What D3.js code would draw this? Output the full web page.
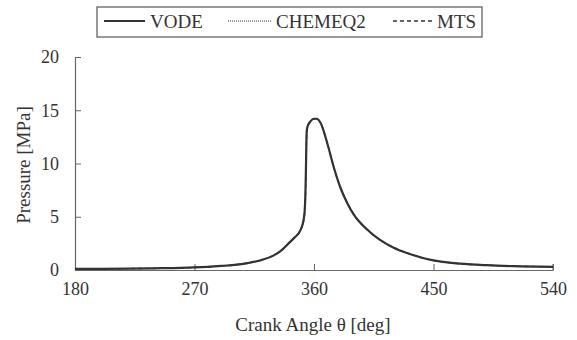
<!DOCTYPE html>
<html>
<head>
<meta charset="utf-8">
<script src="https://cdn.jsdelivr.net/npm/d3@7"></script>
<style>
  body { margin: 0; background: #fff; }
  svg text { font-family: "Liberation Serif", "DejaVu Serif", serif !important; fill: #333; }
</style>
</head>
<body>
<svg id="chart" width="577" height="340"></svg>
<script>
// crank angle [deg]
var angle = [180, 200, 220, 240, 260, 270, 280, 290, 300, 310, 320, 330, 335, 340, 345, 350, 352, 353, 353.5, 354, 354.5, 355, 357, 360, 362, 365, 370, 375, 380, 385, 390, 400, 410, 420, 430, 440, 450, 470, 490, 510, 540];
// pressure [MPa]
var vode = [0.1, 0.11, 0.13, 0.16, 0.2, 0.24, 0.3, 0.38, 0.48, 0.65, 0.92, 1.4, 1.8, 2.4, 3.0, 3.8, 4.6, 5.6, 7.0, 10.0, 13.0, 13.4, 13.9, 14.2, 14.2, 13.8, 11.9, 9.6, 7.7, 6.3, 5.2, 3.8, 2.8, 2.1, 1.6, 1.2, 0.9, 0.6, 0.45, 0.36, 0.3];
var chemeq2 = [0.1, 0.11, 0.13, 0.16, 0.2, 0.24, 0.3, 0.38, 0.48, 0.65, 0.92, 1.4, 1.8, 2.4, 3.0, 3.8, 4.6, 5.6, 7.0, 10.0, 13.0, 13.4, 13.9, 14.2, 14.2, 13.8, 11.9, 9.6, 7.7, 6.3, 5.2, 3.8, 2.8, 2.1, 1.6, 1.2, 0.9, 0.6, 0.45, 0.36, 0.3];
var mts = [0.1, 0.11, 0.13, 0.16, 0.2, 0.24, 0.3, 0.38, 0.48, 0.65, 0.92, 1.4, 1.8, 2.4, 3.0, 3.8, 4.5, 5.4, 6.5, 9.5, 12.8, 13.4, 13.9, 14.2, 14.2, 13.8, 11.9, 9.6, 7.7, 6.3, 5.2, 3.8, 2.8, 2.1, 1.6, 1.2, 0.9, 0.6, 0.45, 0.36, 0.3];

var xTicks = [180, 270, 360, 450, 540];
var yTicks = [0, 5, 10, 15, 20];
var seriesNames = ["VODE", "CHEMEQ2", "MTS"];

var serif = "Liberation Serif";
var svg = d3.select("#chart");

var x = d3.scaleLinear().domain([180, 540]).range([75, 553]);
var y = d3.scaleLinear().domain([0, 20]).range([270, 57]);

// axes, ticks pointing inwards
var xAxis = svg.append("g")
  .attr("transform", "translate(0," + y(0) + ")")
  .call(d3.axisBottom(x).tickValues(xTicks).tickSize(-6).tickSizeOuter(0).tickPadding(12));
var yAxis = svg.append("g")
  .attr("transform", "translate(" + x(180) + ",0)")
  .call(d3.axisLeft(y).tickValues(yTicks).tickSize(-6).tickSizeOuter(0).tickPadding(16));

[xAxis, yAxis].forEach(function(a) {
  a.attr("font-family", serif);
  a.select(".domain").attr("stroke", "#666").attr("stroke-width", 1.2);
  a.selectAll(".tick line").attr("stroke", "#666");
  a.selectAll("text").attr("font-size", 18).attr("fill", "#333");
});
// right end tick at 540
svg.append("line")
  .attr("x1", x(540)).attr("x2", x(540))
  .attr("y1", y(0)).attr("y2", y(0) - 6)
  .attr("stroke", "#666");

svg.append("text")
  .attr("x", 313).attr("y", 331)
  .attr("text-anchor", "middle")
  .attr("font-family", serif)
  .attr("font-size", 19)
  .text("Crank Angle \u03b8 [deg]");

svg.append("text")
  .attr("transform", "translate(30,165) rotate(-90)")
  .attr("text-anchor", "middle")
  .attr("font-family", serif)
  .attr("font-size", 19)
  .text("Pressure [MPa]");

// curves
var line = d3.line()
  .x(function(d) { return x(d[0]); })
  .y(function(d) { return y(d[1]); })
  .curve(d3.curveMonotoneX);

var styles = [
  { data: vode, dash: null, width: 2.2 },
  { data: chemeq2, dash: "1,1", width: 1 },
  { data: mts, dash: "4,3", width: 1.4 }
];

styles.forEach(function(s) {
  svg.append("path")
    .datum(angle.map(function(a, i) { return [a, s.data[i]]; }))
    .attr("fill", "none")
    .attr("stroke", "#333")
    .attr("stroke-width", s.width)
    .attr("stroke-dasharray", s.dash)
    .attr("d", line);
});

// legend
var lg = svg.append("g");
lg.append("rect")
  .attr("x", 97).attr("y", 7).attr("width", 385).attr("height", 30)
  .attr("fill", "#fff").attr("stroke", "#555").attr("stroke-width", 1.2);

var legendX = [104, 228, 393];
var legendText = [150, 276, 437];
seriesNames.forEach(function(n, i) {
  lg.append("line")
    .attr("x1", legendX[i]).attr("x2", legendText[i] - 5)
    .attr("y1", 21).attr("y2", 21)
    .attr("stroke", "#333")
    .attr("stroke-width", styles[i].width)
    .attr("stroke-dasharray", styles[i].dash);
  lg.append("text")
    .attr("x", legendText[i]).attr("y", 28)
    .attr("font-family", serif)
    .attr("font-size", 19)
    .text(n);
});
</script>
</body>
</html>
